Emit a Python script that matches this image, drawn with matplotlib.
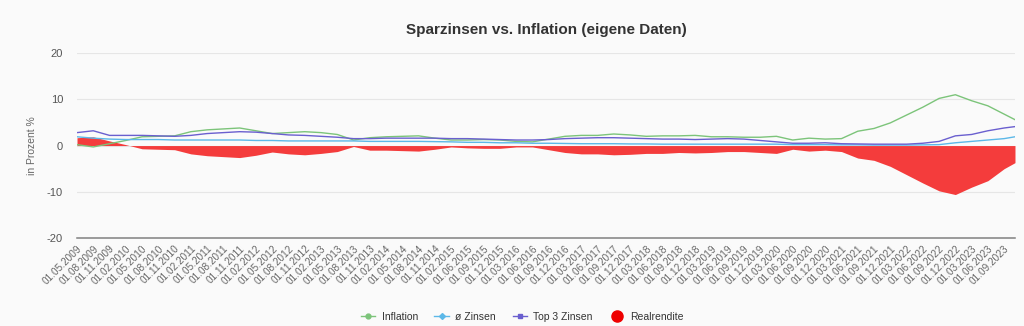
import numpy as np
import matplotlib
matplotlib.use("Agg")
import matplotlib.pyplot as plt
from matplotlib.lines import Line2D

plt.rcParams['font.family'] = ['Liberation Sans', 'DejaVu Sans']
plt.rcParams['axes.unicode_minus'] = False

# Achsenbeschriftungen (quartalsweise)
tick_labels = [
    "01.05.2009", "01.08.2009", "01.11.2009",
    "01.02.2010", "01.05.2010", "01.08.2010", "01.11.2010",
    "01.02.2011", "01.05.2011", "01.08.2011", "01.11.2011",
    "01.02.2012", "01.05.2012", "01.08.2012", "01.11.2012",
    "01.02.2013", "01.05.2013", "01.08.2013", "01.11.2013",
    "01.02.2014", "01.05.2014", "01.08.2014", "01.11.2014",
    "01.02.2015", "01.06.2015", "01.09.2015", "01.12.2015",
    "01.03.2016", "01.06.2016", "01.09.2016", "01.12.2016",
    "01.03.2017", "01.06.2017", "01.09.2017", "01.12.2017",
    "01.03.2018", "01.06.2018", "01.09.2018", "01.12.2018",
    "01.03.2019", "01.06.2019", "01.09.2019", "01.12.2019",
    "01.03.2020", "01.06.2020", "01.09.2020", "01.12.2020",
    "01.03.2021", "01.06.2021", "01.09.2021", "01.12.2021",
    "01.03.2022", "01.06.2022", "01.09.2022", "01.12.2022",
    "01.03.2023", "01.06.2023", "01.09.2023",
]

# Werte je Quartal + letzter Datenpunkt (in %)
inflation = [
    0.2, -0.3, 0.4, 1.1, 1.9, 2.0, 2.1, 3.0, 3.4, 3.6, 3.8, 3.2,
    2.6, 2.8, 3.0, 2.8, 2.4, 1.2, 1.7, 1.9, 2.0, 2.1, 1.6, 1.2,
    1.2, 1.3, 1.2, 0.9, 0.8, 1.4, 2.0, 2.2, 2.2, 2.5, 2.3, 2.0,
    2.1, 2.1, 2.2, 1.9, 1.9, 1.8, 1.8, 2.0, 1.2, 1.6, 1.4, 1.5,
    3.1, 3.7, 4.9, 6.6, 8.3, 10.2, 11.0, 9.7, 8.6, 6.8, 5.6,
]
avg_rate = [
    1.9, 1.6, 1.4, 1.3, 1.3, 1.3, 1.2, 1.2, 1.2, 1.2, 1.2, 1.1,
    1.1, 1.0, 1.0, 1.0, 1.0, 1.0, 0.9, 0.9, 0.9, 0.9, 0.85, 0.8,
    0.7, 0.7, 0.6, 0.6, 0.5, 0.5, 0.45, 0.4, 0.4, 0.4, 0.35, 0.35,
    0.3, 0.3, 0.3, 0.3, 0.3, 0.3, 0.3, 0.3, 0.2, 0.2, 0.2, 0.15,
    0.15, 0.1, 0.1, 0.1, 0.15, 0.2, 0.6, 0.9, 1.2, 1.5, 1.9,
]
top3_rate = [
    2.8, 3.2, 2.2, 2.2, 2.2, 2.1, 2.0, 2.2, 2.6, 2.8, 3.0, 2.9,
    2.6, 2.3, 2.2, 2.0, 1.8, 1.5, 1.5, 1.6, 1.6, 1.6, 1.6, 1.5,
    1.5, 1.4, 1.3, 1.2, 1.2, 1.3, 1.5, 1.6, 1.7, 1.7, 1.6, 1.5,
    1.4, 1.4, 1.3, 1.4, 1.5, 1.4, 1.1, 0.8, 0.5, 0.5, 0.6, 0.4,
    0.35, 0.3, 0.3, 0.3, 0.5, 0.9, 2.1, 2.4, 3.2, 3.8, 4.1,
]
real_return = [
    1.7, 1.9, 1.0, 0.2, -0.7, -0.8, -0.9, -1.8, -2.2, -2.4, -2.6, -2.1,
    -1.4, -1.8, -2.0, -1.7, -1.3, -0.2, -1.0, -1.0, -1.1, -1.2, -0.8, -0.3,
    -0.5, -0.6, -0.6, -0.3, -0.3, -0.9, -1.5, -1.8, -1.8, -2.0, -1.9, -1.7,
    -1.7, -1.5, -1.6, -1.5, -1.3, -1.3, -1.5, -1.7, -0.8, -1.2, -1.0, -1.3,
    -2.7, -3.2, -4.5, -6.3, -8.1, -9.8, -10.6, -9.0, -7.6, -5.0, -3.7,
]

# x-Positionen: 3 Monate pro Beschriftung, letzter Punkt 2 Monate nach 01.09.2023
x = np.arange(len(inflation)) * 3.0
x[-1] = x[-2] + 2
tick_pos = np.arange(len(tick_labels)) * 3

bg = '#fafafa'
fig = plt.figure(figsize=(10.24, 3.26), dpi=100, facecolor=bg)
ax = fig.add_axes([0.0752, 0.27, 0.916, 0.567], facecolor=bg)

ax.fill_between(x, real_return, 0, color='#f43c3c', lw=0, zorder=2)
ax.plot(x, inflation, color='#7cc47a', lw=1, zorder=3)
ax.plot(x, avg_rate, color='#5cb8e8', lw=1, zorder=3)
ax.plot(x, top3_rate, color='#6a5fcf', lw=1, zorder=3)

ax.set_xlim(0, x[-1])
ax.set_ylim(-20, 20)
ax.set_yticks([-20, -10, 0, 10, 20])
ax.yaxis.grid(True, color='#e6e6e6', lw=0.8)
ax.set_axisbelow(True)
for s in ['top', 'right', 'left']:
    ax.spines[s].set_visible(False)
ax.spines['bottom'].set_position(('data', -20))
ax.spines['bottom'].set_color('#808080')
ax.spines['bottom'].set_linewidth(1.1)

ax.set_xticks(tick_pos)
ax.set_xticklabels(tick_labels, rotation=45, ha='right', rotation_mode='anchor',
                   fontsize=7.2, color='#666666')
ax.tick_params(axis='x', length=0, pad=4)
ax.tick_params(axis='y', length=0, pad=10, labelsize=8, labelcolor='#555555')

ax.set_ylabel('in Prozent %', fontsize=7.5, color='#666666', labelpad=7)
ax.set_title('Sparzinsen vs. Inflation (eigene Daten)', fontsize=11, fontweight='bold',
             color='#333333', pad=14)

handles = [
    Line2D([], [], color='#7cc47a', lw=1, marker='o', markersize=3.5),
    Line2D([], [], color='#5cb8e8', lw=1, marker='D', markersize=3),
    Line2D([], [], color='#6a5fcf', lw=1, marker='s', markersize=3.5),
    Line2D([], [], color='#ee0000', lw=0, marker='o', markersize=8),
]
fig.legend(handles, ['Inflation', 'ø Zinsen', 'Top 3 Zinsen', 'Realrendite'],
           loc='center', bbox_to_anchor=(0.51, 0.028), ncol=4, frameon=False,
           fontsize=7.5, handlelength=1.4, handletextpad=0.6, columnspacing=1.6,
           labelcolor='#333333')

fig.savefig('out.png', dpi=100, facecolor=bg)
